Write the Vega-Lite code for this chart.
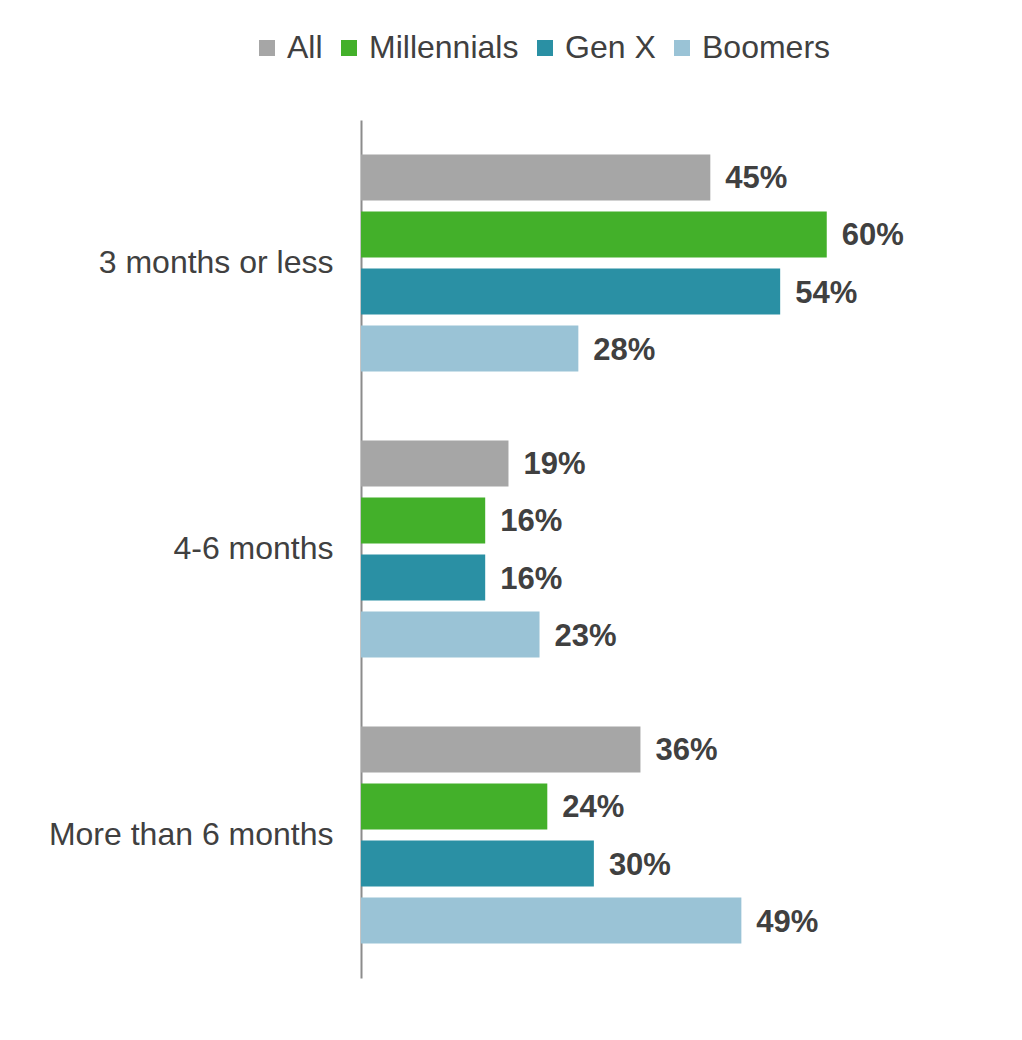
{
  "$schema": "https://vega.github.io/schema/vega-lite/v6.json",
  "width": 621,
  "height": 858,
  "autosize": {"type": "none"},
  "padding": {"left": 361, "top": 120, "right": 40, "bottom": 62},
  "background": "#ffffff",
  "config": {
    "view": {"stroke": null},
    "font": "Liberation Sans"
  },
  "data": {
    "values": [
      {"period": "3 months or less", "group": "All", "value": 0.45},
      {"period": "3 months or less", "group": "Millennials", "value": 0.60},
      {"period": "3 months or less", "group": "Gen X", "value": 0.54},
      {"period": "3 months or less", "group": "Boomers", "value": 0.28},
      {"period": "4-6 months", "group": "All", "value": 0.19},
      {"period": "4-6 months", "group": "Millennials", "value": 0.16},
      {"period": "4-6 months", "group": "Gen X", "value": 0.16},
      {"period": "4-6 months", "group": "Boomers", "value": 0.23},
      {"period": "More than 6 months", "group": "All", "value": 0.36},
      {"period": "More than 6 months", "group": "Millennials", "value": 0.24},
      {"period": "More than 6 months", "group": "Gen X", "value": 0.30},
      {"period": "More than 6 months", "group": "Boomers", "value": 0.49}
    ]
  },
  "encoding": {
    "y": {
      "field": "period", "type": "nominal",
      "sort": ["3 months or less", "4-6 months", "More than 6 months"],
      "scale": {"paddingInner": 0, "paddingOuter": 0},
      "axis": {
        "title": null, "ticks": false, "labelFontSize": 32, "labelColor": "#404040",
        "labelPadding": 28, "labelLimit": 400, "domainColor": "#8c8c8c", "domainWidth": 2, "grid": false
      }
    },
    "yOffset": {
      "field": "group", "type": "nominal",
      "sort": ["All", "Millennials", "Gen X", "Boomers"],
      "scale": {"paddingInner": 0.193, "paddingOuter": 0.605}
    },
    "x": {
      "field": "value", "type": "quantitative",
      "scale": {"domain": [0, 0.8], "nice": false},
      "axis": null
    }
  },
  "layer": [
    {
      "mark": {"type": "bar"},
      "encoding": {
        "color": {
          "field": "group", "type": "nominal",
          "scale": {
            "domain": ["All", "Millennials", "Gen X", "Boomers"],
            "range": ["#a6a6a6", "#43b02a", "#2a90a4", "#9ac3d6"]
          },
          "legend": {
            "title": null, "orient": "none", "direction": "horizontal",
            "legendX": -110, "legendY": -88,
            "symbolType": "square", "symbolSize": 256, "symbolStrokeWidth": 0,
            "labelFontSize": 32, "labelColor": "#404040", "labelOffset": 4,
            "columnPadding": 10, "padding": 0
          }
        }
      }
    },
    {
      "mark": {"type": "text", "align": "left", "baseline": "middle", "dx": 15, "dy": 2, "fontSize": 31, "fontWeight": "bold", "color": "#404040"},
      "encoding": {
        "text": {"field": "value", "type": "quantitative", "format": ".0%"}
      }
    }
  ]
}
